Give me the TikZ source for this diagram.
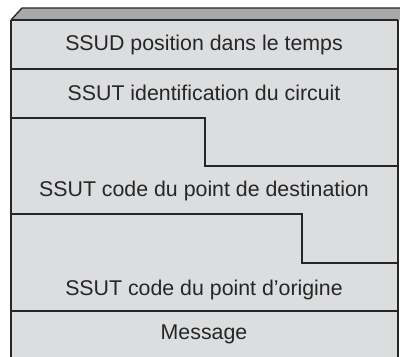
\documentclass[tikz,border=0pt]{standalone}
\usepackage{fontspec}
\setmainfont{Liberation Sans}
\definecolor{facegray}{HTML}{DCDDDF}
\definecolor{topgray}{HTML}{A8A9AB}
\definecolor{edgegray}{HTML}{262626}
\begin{document}
\begin{tikzpicture}[
		x=0.75pt, y=-0.75pt,
		line join=miter,
		line cap=butt,
		font=\fontsize{16}{19}\selectfont,
		edge/.style={draw=edgegray, line width=0.8pt},
		border/.style={draw=edgegray, line width=1.6pt},
		champ/.style={text=edgegray, inner sep=0pt}
		]
		
		% Cadre de l'image
		\useasboundingbox (0,0) rectangle (400,357);
		
		% Face avant
		\fill[facegray] (11,20) rectangle (398,357);
		
		% Face supérieure
		\fill[topgray] (11,20)--(22,8)--(400,8)--(400,20)--cycle;
		\draw[edgegray, line width=1pt] (11,20)--(22,8)--(400,8);
		\draw[border] (11,20)--(398,20);
		
		% Bords latéraux
		\draw[border] (11,20)--(11,357);
		\draw[border] (398,20)--(398,357);
		
		% Séparations des champs
		\draw[edge] (11,69)--(398,69);
		\draw[edge] (11,118)--(205,118)--(205,166)--(398,166);
		\draw[edge] (11,214)--(302,214)--(302,263)--(398,263);
		\draw[edge] (11,311)--(398,311);
		
		% Noms des champs
		\node[champ] (temps) at (204,45) {SSUD position dans le temps};
		\node[champ] (circuit) at (204,93) {SSUT identification du circuit};
		\node[champ] (destination) at (204,191) {SSUT code du point de destination};
		\node[champ] (origine) at (204,290) {SSUT code du point d’origine};
		\node[champ] (message) at (204,334) {Message};
		
	\end{tikzpicture}
\end{document}
